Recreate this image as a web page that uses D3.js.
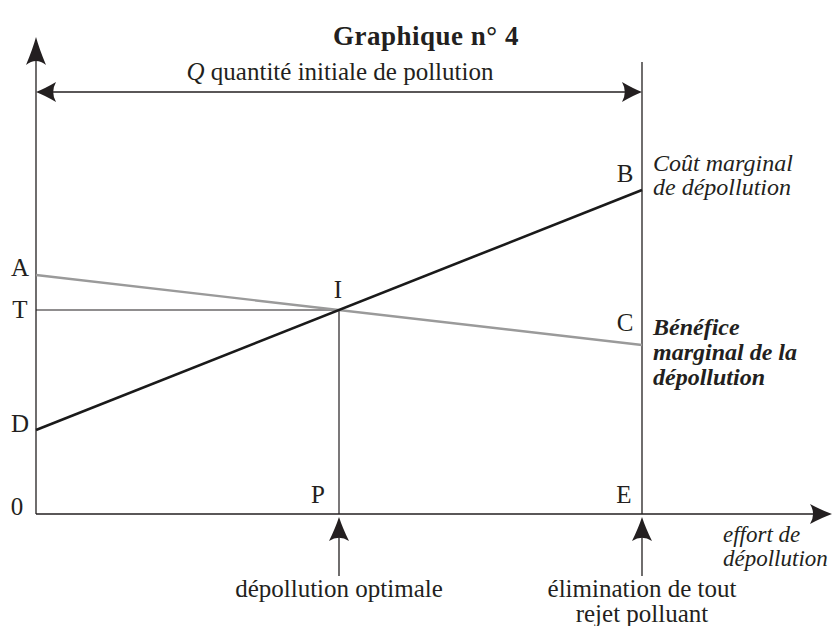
<!DOCTYPE html>
<html>
<head>
<meta charset="utf-8">
<script src="https://cdn.jsdelivr.net/npm/d3@7"></script>
<style>
  body { margin: 0; background: #fff; }
  svg text { font-family: "Liberation Serif", "DejaVu Serif", serif; fill: #231f20; }
</style>
</head>
<body>
<svg id="chart" width="832" height="626"></svg>
<script>
// effort de dépollution (0 = origine, P = optimum, E = élimination totale)
var effortKeys = ["0", "P", "E"];
var effortValues = [0, 50, 100];
// coût marginal de dépollution : D -> B
var coutLabels = ["D", "B"];
var coutValues = [84, 324];
// bénéfice marginal de la dépollution : A -> C
var beneficeLabels = ["A", "C"];
var beneficeValues = [239, 169];
// niveau T au point d'intersection I
var tValue = 204;

var svg = d3.select("#chart");
var ink = "#231f20";

var x = d3.scaleLinear().domain([0, 100]).range([36, 642]);
var y = d3.scaleLinear().domain([0, 480]).range([514, 34]);

var xP = x(effortValues[1]), xE = x(effortValues[2]);
var y0 = y(0);

// arrow head pointing up at (0,0), rotated as needed
function arrowHead(g, px, py, angle, len, half){
    g.append("path")
        .attr("d", "M0,0 Q" + (-half*0.35) + "," + (len*0.45) + " " + (-half) + "," + len +
              " Q0," + (len*0.72) + " " + half + "," + len +
              " Q" + (half*0.35) + "," + (len*0.45) + " 0,0 Z")
        .attr("transform", "translate(" + px + "," + py + ") rotate(" + angle + ")")
        .style("fill", ink);
}

var g = svg.append("g");

// title
svg.append("text")
    .attr("x", 426).attr("y", 45)
    .attr("text-anchor", "middle")
    .style("font-size", "27px").style("font-weight", "bold")
    .style("letter-spacing", "0.5px")
    .text("Graphique n° 4");

// Q label
var q = svg.append("text")
    .attr("x", 340).attr("y", 80)
    .attr("text-anchor", "middle")
    .style("font-size", "25px");
q.append("tspan").style("font-style", "italic").text("Q");
q.append("tspan").text(" quantité initiale de pollution");

// axes
g.append("line").attr("x1", x(0)).attr("y1", y0).attr("x2", x(0)).attr("y2", 40)
    .style("stroke", ink).style("stroke-width", 1.3);
arrowHead(g, x(0), 37, 0, 28, 10);
g.append("line").attr("x1", x(0)).attr("y1", y0).attr("x2", 828).attr("y2", y0)
    .style("stroke", ink).style("stroke-width", 1.3);
arrowHead(g, 832, y0, 90, 22, 10);

// Q double arrow
var yQ = 92;
g.append("line").attr("x1", x(0) + 4).attr("y1", yQ).attr("x2", xE - 4).attr("y2", yQ)
    .style("stroke", ink).style("stroke-width", 1.3);
arrowHead(g, x(0), yQ, -90, 20, 10);
arrowHead(g, xE, yQ, 90, 20, 10);

// vertical at E
g.append("line").attr("x1", xE).attr("y1", 62).attr("x2", xE).attr("y2", y0)
    .style("stroke", ink).style("stroke-width", 1.3);

// T horizontal and P vertical
g.append("line").attr("x1", x(0)).attr("y1", y(tValue)).attr("x2", xP).attr("y2", y(tValue))
    .style("stroke", ink).style("stroke-width", 1.2);
g.append("line").attr("x1", xP).attr("y1", y(tValue)).attr("x2", xP).attr("y2", y0)
    .style("stroke", ink).style("stroke-width", 1.2);

// curves
var line = d3.line().x(function(d){ return x(d[0]); }).y(function(d){ return y(d[1]); });
g.append("path")
    .attr("d", line([[0, beneficeValues[0]], [100, beneficeValues[1]]]))
    .style("stroke", "#9a9a9a").style("stroke-width", 2.4).style("fill", "none");
g.append("path")
    .attr("d", line([[0, coutValues[0]], [100, coutValues[1]]]))
    .style("stroke", "#1a1a1a").style("stroke-width", 2.6).style("fill", "none");

// arrows under P and E
[xP, xE].forEach(function(px){
    g.append("line").attr("x1", px).attr("y1", 530).attr("x2", px).attr("y2", 576)
        .style("stroke", ink).style("stroke-width", 1.3);
    arrowHead(g, px, 517, 0, 24, 10);
});

// point labels
var fs = "25px";
function label(txt, lx, ly, anchor){
    svg.append("text").attr("x", lx).attr("y", ly)
        .attr("text-anchor", anchor || "middle")
        .style("font-size", fs).text(txt);
}
label(beneficeLabels[0], 20, y(beneficeValues[0]) + 1);
label("T", 20, y(tValue) + 8);
label(coutLabels[0], 20, y(coutValues[0]) + 2);
label(effortKeys[0], 17, y0 + 1);
label("I", xP - 1, y(tValue) - 12);
label(coutLabels[1], xE - 17, y(coutValues[1]) - 8);
label(beneficeLabels[1], xE - 17, y(beneficeValues[1]) - 14);
label(effortKeys[1], xP - 21, y0 - 11);
label(effortKeys[2], xE - 18, y0 - 11);

// curve names
function multi(lines, lx, ly, dy, size, style, weight, anchor){
    var t = svg.append("text").attr("x", lx).attr("y", ly)
        .attr("text-anchor", anchor || "start")
        .style("font-size", size).style("font-style", style).style("font-weight", weight);
    lines.forEach(function(s, i){
        t.append("tspan").attr("x", lx).attr("dy", i === 0 ? 0 : dy).text(s);
    });
}
multi(["Coût marginal", "de dépollution"], 653, 171, 24, "24px", "italic", "normal");
multi(["Bénéfice", "marginal de la", "dépollution"], 653, 335, 25, "24px", "italic", "bold");
multi(["effort de", "dépollution"], 723, 542, 24, "23px", "italic", "normal");
multi(["dépollution optimale"], xP, 597, 25, fs, "normal", "normal", "middle");
multi(["élimination de tout", "rejet polluant"], xE, 597, 25, fs, "normal", "normal", "middle");
</script>
</body>
</html>
